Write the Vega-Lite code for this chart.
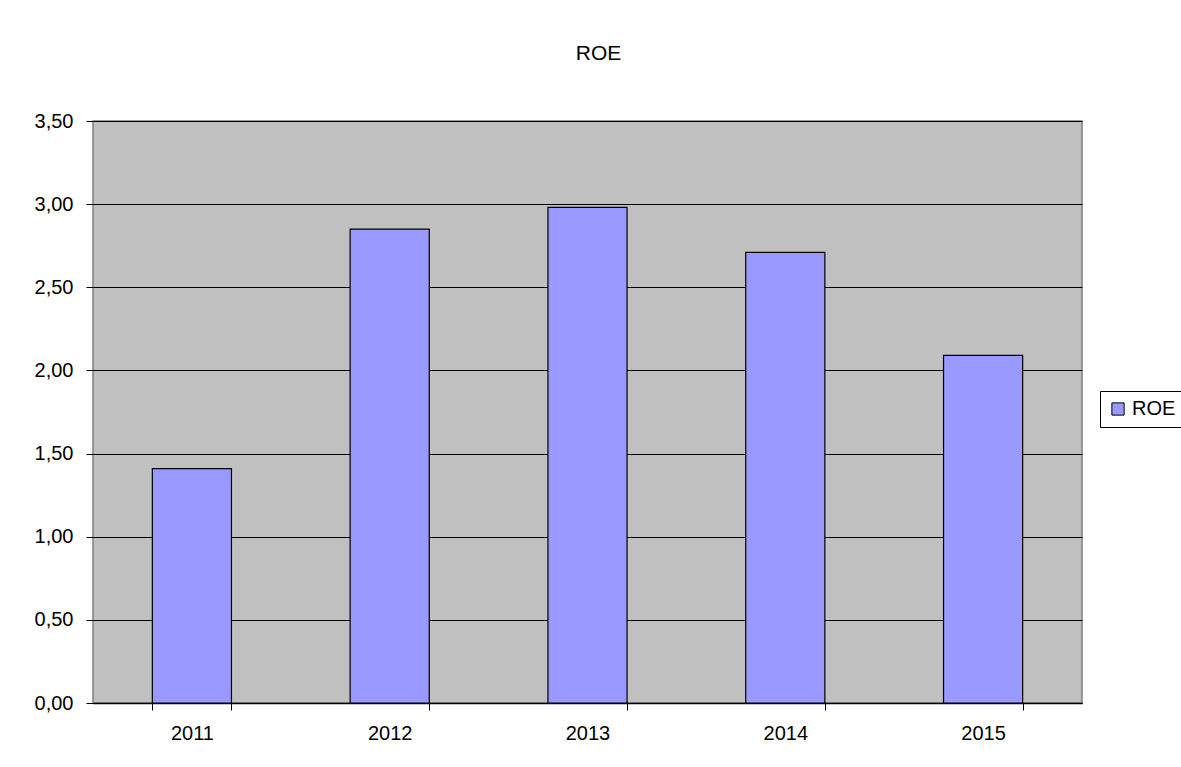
{
  "$schema": "https://vega.github.io/schema/vega-lite/v6.json",
  "autosize": {"type": "none"},
  "width": 989,
  "height": 582,
  "padding": {"left": 93, "top": 121, "right": 99, "bottom": 64},
  "background": "white",
  "title": {
    "text": "ROE",
    "font": "Liberation Sans",
    "fontSize": 21,
    "fontWeight": "normal",
    "color": "black",
    "anchor": "middle",
    "baseline": "alphabetic",
    "offset": 30,
    "dx": 11
  },
  "data": {
    "values": [
      {"year": "2011", "ROE": 1.41},
      {"year": "2012", "ROE": 2.85},
      {"year": "2013", "ROE": 2.98},
      {"year": "2014", "ROE": 2.71},
      {"year": "2015", "ROE": 2.09}
    ]
  },
  "mark": {"type": "bar", "stroke": "black", "strokeWidth": 1.2},
  "encoding": {
    "x": {
      "field": "year",
      "type": "nominal",
      "scale": {"paddingInner": 0.6, "paddingOuter": 0.3},
      "axis": {
        "title": null,
        "labelAngle": 0,
        "labelFont": "Liberation Sans",
        "labelFontSize": 20,
        "labelColor": "black",
        "labelPadding": 13,
        "tickBand": "extent",
        "tickColor": "black",
        "tickSize": 7,
        "domainColor": "black",
        "domainWidth": 1.5,
        "grid": false
      }
    },
    "y": {
      "field": "ROE",
      "type": "quantitative",
      "scale": {"domain": [0, 3.5], "nice": false},
      "axis": {
        "title": null,
        "values": [0, 0.5, 1, 1.5, 2, 2.5, 3, 3.5],
        "labelExpr": "replace(format(datum.value, '.2f'), '.', ',')",
        "labelFont": "Liberation Sans",
        "labelFontSize": 20,
        "labelColor": "black",
        "labelPadding": 13,
        "tickColor": "black",
        "tickSize": 7,
        "domain": false,
        "grid": true,
        "gridColor": "black",
        "gridOpacity": 1,
        "gridWidth": 1.2
      }
    },
    "color": {
      "datum": "ROE",
      "type": "nominal",
      "scale": {"range": ["#9999FF"]},
      "legend": {
        "title": null,
        "orient": "none",
        "legendX": 1007,
        "legendY": 270,
        "strokeColor": "black",
        "fillColor": "white",
        "padding": 8,
        "symbolType": "square",
        "symbolSize": 150,
        "symbolStrokeColor": "black",
        "symbolStrokeWidth": 1,
        "symbolOpacity": 1,
        "labelFont": "Liberation Sans",
        "labelFontSize": 20,
        "labelColor": "black"
      }
    }
  },
  "config": {
    "view": {"fill": "#C0C0C0", "stroke": "#808080", "strokeWidth": 1.5}
  }
}
